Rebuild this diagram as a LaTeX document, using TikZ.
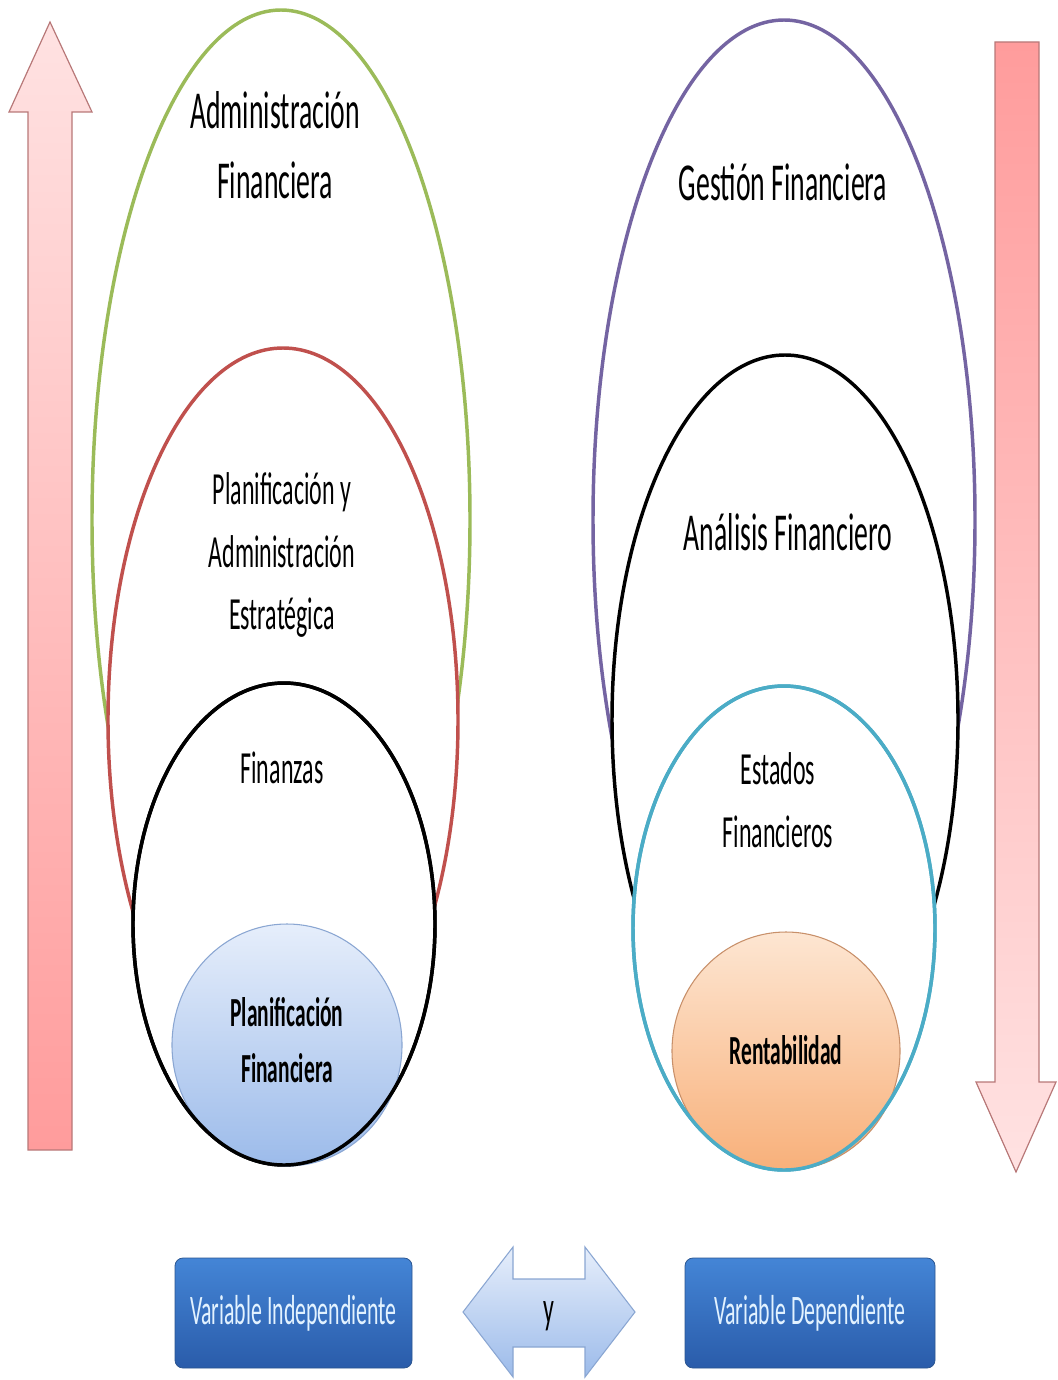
\documentclass[tikz,border=0pt]{standalone}
\usepackage{fontspec}
\setmainfont[FakeStretch=0.52]{Carlito}
\usetikzlibrary{shapes.geometric}
\definecolor{cgreen}{HTML}{9BBB59}
\definecolor{cred}{HTML}{C0504D}
\definecolor{cpurple}{HTML}{7464A2}
\definecolor{cteal}{HTML}{4BACC6}
\definecolor{pinklight}{HTML}{FFE2E2}
\definecolor{pinkdark}{HTML}{FF9C9C}
\definecolor{pinkedge}{HTML}{B87878}
\definecolor{bluelight}{HTML}{E6EEFB}
\definecolor{bluedark}{HTML}{9CBBEA}
\definecolor{blueedge}{HTML}{8AA6D2}
\definecolor{orlight}{HTML}{FDE6D2}
\definecolor{ordark}{HTML}{F8B07A}
\definecolor{oredge}{HTML}{C8906A}
\definecolor{boxtop}{HTML}{4485D6}
\definecolor{boxbot}{HTML}{2A5CAA}
\definecolor{boxedge}{HTML}{2B5590}
\definecolor{boxtext}{HTML}{E2F2FF}
\begin{document}
\begin{tikzpicture}[x=0.75pt,y=-0.75pt,
  ring/.style={ellipse, draw, line width=2.6pt, fill=white, inner sep=0pt, outer sep=0pt},
  outline/.style={ellipse, draw, line width=2.6pt, inner sep=0pt, outer sep=0pt},
  bigtxt/.style={font=\fontsize{40}{52.5}\selectfont, align=center},
  midtxt/.style={font=\fontsize{34.5}{47}\selectfont, align=center},
  boldtxt/.style={font=\fontsize{31}{42}\selectfont\bfseries, align=center},
  pinkarrow/.style={draw=pinkedge, line width=0.9pt, line join=miter},
  varbox/.style={rectangle, rounded corners=6pt, draw=boxedge, line width=0.6pt,
    top color=boxtop, bottom color=boxbot, text=boxtext,
    font=\fontsize{31.5}{40}\selectfont, inner sep=0pt,
    minimum height={110*0.75pt}},
]
\useasboundingbox (0,0) rectangle (1057,1380);

% ---- side arrows ----
\path[pinkarrow, top color=pinklight, bottom color=pinkdark]
  (28,1150) -- (28,112) -- (9,112) -- (50,22) -- (92,112) -- (72,112) -- (72,1150) -- cycle;
\path[pinkarrow, top color=pinkdark, bottom color=pinklight]
  (995,42) -- (1039,42) -- (1039,1082) -- (1056,1082) -- (1016,1172) -- (976,1082) -- (995,1082) -- cycle;

% ---- left nest ----
\node[ring, draw=cgreen, minimum width={378*0.75pt}, minimum height={1020*0.75pt}] (green) at (281,520) {};
\node[ring, draw=cred, minimum width={350*0.75pt}, minimum height={744*0.75pt}] (red) at (283,720) {};
\node[ring, draw=black, minimum width={302*0.75pt}, minimum height={482*0.75pt}] (blackL) at (284,924) {};
\node[ellipse, draw=blueedge, line width=0.8pt, top color=bluelight, bottom color=bluedark, inner sep=0pt,
      minimum width={230*0.75pt}, minimum height={242*0.75pt}] (blue) at (287,1045) {};
\node[outline, draw=black, minimum width={302*0.75pt}, minimum height={482*0.75pt}] (blackLo) at (284,924) {};

\node[bigtxt] (tAdm) at (275,145) {Administración\\Financiera};
\node[midtxt] (tPlan) at (282,555) {Planificación y\\Administración\\Estratégica};
\node[midtxt] (tFin) at (282,768) {Finanzas};
\node[boldtxt] (tPF) at (287,1040) {Planificación\\Financiera};

% ---- right nest ----
\node[ring, draw=cpurple, minimum width={382*0.75pt}, minimum height={1000*0.75pt}] (purple) at (784,520) {};
\node[ring, draw=black, minimum width={346*0.75pt}, minimum height={730*0.75pt}] (blackR) at (785,720) {};
\node[ring, draw=cteal, minimum width={302*0.75pt}, minimum height={484*0.75pt}] (teal) at (784,928) {};
\node[ellipse, draw=oredge, line width=0.8pt, top color=orlight, bottom color=ordark, inner sep=0pt,
      minimum width={228*0.75pt}, minimum height={238*0.75pt}] (orange) at (786,1051) {};
\node[outline, draw=cteal, minimum width={302*0.75pt}, minimum height={484*0.75pt}] (tealo) at (784,928) {};

\node[bigtxt] (tGes) at (783,182) {Gestión Financiera};
\node[bigtxt] (tAna) at (788,532) {Análisis Financiero};
\node[midtxt] (tEst) at (778,800) {Estados\\Financieros};
\node[boldtxt] (tRen) at (786,1050) {Rentabilidad};

% ---- bottom row ----
\node[varbox, minimum width={237*0.75pt}] (vi) at (293.5,1313) {Variable Independiente};
\node[varbox, minimum width={250*0.75pt}] (vd) at (810,1313) {Variable Dependiente};
\path[draw=blueedge, line width=0.8pt, top color=bluelight, bottom color=bluedark]
  (463,1312) -- (513,1247) -- (513,1279) -- (585,1279) -- (585,1247) -- (635,1312)
  -- (585,1377) -- (585,1347) -- (513,1347) -- (513,1377) -- cycle;
\node[midtxt] (ty) at (549,1316) {y};
\end{tikzpicture}
\end{document}
